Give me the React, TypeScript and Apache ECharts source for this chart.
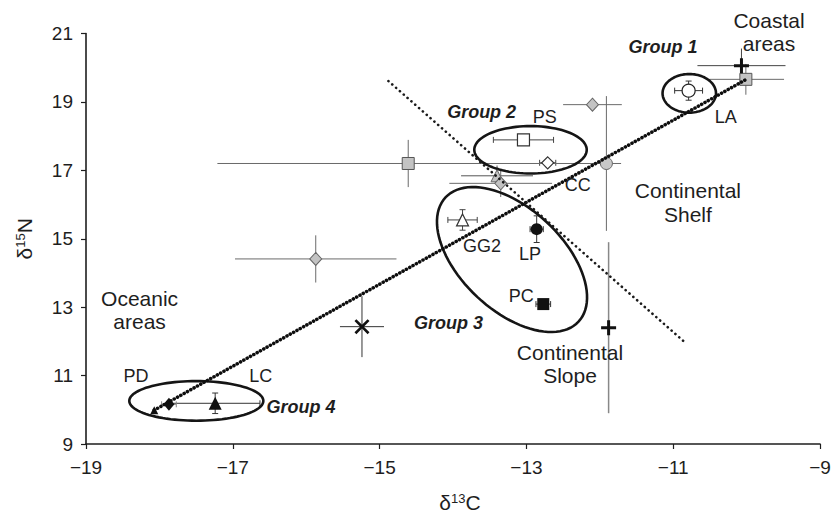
import React, { useEffect, useRef } from 'react';
import * as echarts from 'echarts';

// ---------- axis ticks ----------
const xTicks = [-19, -17, -15, -13, -11, -9];
const yTicks = [9, 11, 13, 15, 17, 19, 21];

// ---------- data points (δ13C, δ15N, ±SD) ----------
const pointNames = [
  'LA', 'Coastal square', 'Coastal plus', 'Gray diamond top', 'PS', 'CC', 'Gray circle',
  'Gray square left', 'Gray triangle', 'Gray diamond mid', 'GG2', 'LP', 'PC', 'Plus slope',
  'Gray diamond left', 'Cross', 'LC', 'PD', 'Small triangle',
];
const pointX = [-10.79, -10.01, -10.07, -12.1, -13.04, -12.71, -11.91, -14.61, -13.4, -13.35, -13.87, -12.86, -12.77, -11.88, -15.87, -15.24, -17.24, -17.87, -18.07];
const pointY = [19.33, 19.66, 20.06, 18.92, 17.89, 17.22, 17.2, 17.2, 16.84, 16.62, 15.55, 15.28, 13.09, 12.4, 14.41, 12.43, 10.19, 10.16, 9.99];
const errX = [0.19, 0.52, 0.6, 0.4, 0.41, 0.11, 0.2, 2.6, 0.49, 0.7, 0.2, 0.09, 0.1, 0.05, 1.1, 0.3, 0.61, 0.1, 0];
const errY = [0.28, 0.45, 0.5, 0.1, 0.12, 0.05, 1.97, 0.69, 0.3, 0.4, 0.3, 0.39, 0.05, 2.5, 0.69, 0.89, 0.3, 0.05, 0];
const pointKind = [
  'openCircle', 'graySquare', 'plus', 'grayDiamond', 'openSquare', 'openDiamond', 'grayCircle',
  'graySquare', 'grayTriangle', 'grayDiamond', 'openTriangle', 'blackCircle', 'blackSquare', 'plusSlope',
  'grayDiamond', 'cross', 'blackTriangle', 'blackDiamond', 'smallTriangle',
];

// ---------- dotted lines ----------
const regressionX = [-18.07, -10.02];
const regressionY = [9.99, 19.64];
const dividerX = [-14.88, -10.85];
const dividerY = [19.61, 11.99];

// ---------- group ellipses: centre + two semi-axis vectors (data units) ----------
const ellipseNames = ['Group 1', 'Group 2', 'Group 3', 'Group 4'];
const ellipseCX = [-10.781, -12.944, -13.196, -17.497];
const ellipseCY = [19.251, 17.6, 14.392, 10.26];
const ellipseUX = [0.364, 0.766, 0.906, 0.913];
const ellipseUY = [0, 0, -1.816, 0];
const ellipseVX = [0, 0, -0.474, 0];
const ellipseVY = [0.564, 0.693, -1.091, 0.579];

// ---------- annotations ----------
const labelText = [
  'Coastal\nareas', 'Group 1', 'LA', 'Group 2', 'PS', 'CC', 'Continental\nShelf', 'GG2', 'LP', 'PC',
  'Group 3', 'Continental\nSlope', 'Oceanic\nareas', 'PD', 'LC', 'Group 4',
];
const labelX = [-9.695, -11.14, -10.285, -13.61, -12.75, -12.3, -10.8, -13.605, -12.95, -13.07, -14.06, -12.406, -18.27, -18.32, -16.62, -16.07];
const labelY = [21.04, 20.61, 18.57, 18.71, 18.57, 16.57, 16.06, 14.79, 14.55, 13.33, 12.54, 11.34, 12.915, 10.99, 10.99, 10.07];
const labelKind = ['region', 'group', 'name', 'group', 'name', 'name', 'region', 'name', 'name', 'name', 'group', 'region', 'region', 'name', 'name', 'group'];

// ---------- styles ----------
const FONT = '"Liberation Sans", Arial, Helvetica, sans-serif';
const INK = '#1e1e1e';
const PLUS = 'path://M0 8H20V12H0Z M8 0H12V20H8Z';
const CROSS = 'path://M2.5 0L10 7.5L17.5 0L20 2.5L12.5 10L20 17.5L17.5 20L10 12.5L2.5 20L0 17.5L7.5 10L0 2.5Z';

type KS = { symbol: string; size: number | number[]; fill: string; stroke?: string; bw?: number; err: string; errW?: number; caps?: boolean };
const kindStyle: Record<string, KS> = {
  openCircle: { symbol: 'circle', size: 13, fill: '#fff', stroke: '#222', bw: 1.2, err: '#333', caps: true },
  graySquare: { symbol: 'rect', size: 12, fill: '#c3c3c3', stroke: '#555', bw: 1, err: '#6a6a6a' },
  plus: { symbol: PLUS, size: 15, fill: '#111', err: '#444' },
  plusSlope: { symbol: PLUS, size: 15, fill: '#111', err: '#888', errW: 1.5 },
  grayDiamond: { symbol: 'diamond', size: [12, 13], fill: '#c3c3c3', stroke: '#666', bw: 1, err: '#6a6a6a' },
  openSquare: { symbol: 'rect', size: 12, fill: '#fff', stroke: '#333', bw: 1.2, err: '#444', caps: true },
  openDiamond: { symbol: 'diamond', size: [12, 12], fill: '#fff', stroke: '#333', bw: 1.2, err: '#444', caps: true },
  grayCircle: { symbol: 'circle', size: 12, fill: '#c8c8c8', stroke: '#666', bw: 1, err: '#6a6a6a' },
  grayTriangle: { symbol: 'triangle', size: 12, fill: '#c3c3c3', stroke: '#666', bw: 1, err: '#555' },
  openTriangle: { symbol: 'triangle', size: 12, fill: '#fff', stroke: '#333', bw: 1.2, err: '#444', caps: true },
  blackCircle: { symbol: 'circle', size: 12, fill: '#111', err: '#333', caps: true },
  blackSquare: { symbol: 'rect', size: 12, fill: '#111', err: '#333', caps: true },
  cross: { symbol: CROSS, size: 15, fill: '#111', err: '#333' },
  blackTriangle: { symbol: 'triangle', size: 13, fill: '#111', err: '#333', caps: true },
  blackDiamond: { symbol: 'diamond', size: [11, 13], fill: '#111', err: '#888', caps: true },
  smallTriangle: { symbol: 'triangle', size: 8, fill: '#111', err: '#111' },
};

const labelStyle: Record<string, any> = {
  region: { fontSize: 21, fontWeight: 'normal', fontStyle: 'normal', lineHeight: 23.5 },
  name: { fontSize: 18, fontWeight: 'normal', fontStyle: 'normal', lineHeight: 20 },
  group: { fontSize: 18, fontWeight: 'bold', fontStyle: 'italic', lineHeight: 20 },
};

const minus = (v: number) => (v < 0 ? '\u2212' + Math.abs(v) : String(v));

export default function App() {
  const ref = useRef<HTMLDivElement>(null);

  useEffect(() => {
    document.body.style.margin = '0';
    if (!ref.current) return;
    const chart = echarts.init(ref.current, null, { renderer: 'svg' });

    const errData = pointX.map((x, i) => [x, pointY[i], errX[i], errY[i]]);
    const scatterData = pointX.map((x, i) => {
      const st = kindStyle[pointKind[i]];
      return {
        name: pointNames[i],
        value: [x, pointY[i]],
        symbol: st.symbol,
        symbolSize: st.size,
        itemStyle: { color: st.fill, borderColor: st.stroke || st.fill, borderWidth: st.bw || 0, opacity: 1 },
      };
    });
    const ellipseData = ellipseCX.map((cx, i) => [cx, ellipseCY[i], ellipseUX[i], ellipseUY[i], ellipseVX[i], ellipseVY[i]]);
    const labelData = labelX.map((x, i) => [x, labelY[i], i]);

    const option: any = {
      animation: false,
      backgroundColor: '#fff',
      grid: { left: 86, right: 11, top: 33.5, bottom: 74, containLabel: false, outerBoundsMode: 'none' },
      xAxis: {
        type: 'value',
        min: -19,
        max: -9,
        name: '{d|δ}{s|13}{d|C}',
        nameLocation: 'middle',
        nameGap: 48,
        nameTextStyle: {
          padding: [0, 0, 0, 14],
          rich: {
            d: { fontSize: 21, fontFamily: FONT, color: INK },
            s: { fontSize: 13, fontFamily: FONT, color: INK, verticalAlign: 'top' },
          },
        },
        axisLine: { onZero: false, lineStyle: { color: INK, width: 1.6 } },
        axisTick: { show: true, inside: false, length: 5, customValues: xTicks, lineStyle: { color: INK, width: 1.2 } },
        axisLabel: { customValues: xTicks, formatter: (v: number) => minus(v), fontSize: 19, fontFamily: FONT, color: INK, margin: 14 },
        splitLine: { show: false },
      },
      yAxis: {
        type: 'value',
        min: 9,
        max: 21,
        name: '{d|δ}{s|15}{d|N}',
        nameLocation: 'middle',
        nameRotate: 90,
        nameGap: 51,
        nameTextStyle: {
          rich: {
            d: { fontSize: 21, fontFamily: FONT, color: INK },
            s: { fontSize: 13, fontFamily: FONT, color: INK, verticalAlign: 'top' },
          },
        },
        axisLine: { onZero: false, lineStyle: { color: INK, width: 1.6 } },
        axisTick: { show: true, inside: false, length: 5, customValues: yTicks, lineStyle: { color: INK, width: 1.2 } },
        axisLabel: { customValues: yTicks, fontSize: 19, fontFamily: FONT, color: INK, margin: 13 },
        splitLine: { show: false },
      },
      series: [
        {
          type: 'custom',
          name: 'error bars',
          z: 2,
          silent: true,
          encode: { x: 0, y: 1 },
          data: errData,
          renderItem: (params: any, api: any) => {
            const i = params.dataIndex;
            const st = kindStyle[pointKind[i]];
            const x = api.value(0), y = api.value(1), ex = api.value(2), ey = api.value(3);
            const style = { stroke: st.err, lineWidth: st.errW || 1 };
            const children: any[] = [];
            const cap = 3;
            if (ex > 0) {
              const l = api.coord([x - ex, y]);
              const r = api.coord([x + ex, y]);
              children.push({ type: 'line', shape: { x1: l[0], y1: l[1], x2: r[0], y2: r[1] }, style });
              if (st.caps) {
                children.push({ type: 'line', shape: { x1: l[0], y1: l[1] - cap, x2: l[0], y2: l[1] + cap }, style });
                children.push({ type: 'line', shape: { x1: r[0], y1: r[1] - cap, x2: r[0], y2: r[1] + cap }, style });
              }
            }
            if (ey > 0) {
              const t = api.coord([x, y + ey]);
              const b = api.coord([x, y - ey]);
              children.push({ type: 'line', shape: { x1: t[0], y1: t[1], x2: b[0], y2: b[1] }, style });
              if (st.caps) {
                children.push({ type: 'line', shape: { x1: t[0] - cap, y1: t[1], x2: t[0] + cap, y2: t[1] }, style });
                children.push({ type: 'line', shape: { x1: b[0] - cap, y1: b[1], x2: b[0] + cap, y2: b[1] }, style });
              }
            }
            return { type: 'group', children };
          },
        },
        {
          type: 'custom',
          name: 'groups',
          z: 3,
          silent: true,
          encode: { x: 0, y: 1 },
          data: ellipseData,
          renderItem: (params: any, api: any) => {
            const cx = api.value(0), cy = api.value(1);
            const ux = api.value(2), uy = api.value(3), vx = api.value(4), vy = api.value(5);
            const pts: number[][] = [];
            for (let k = 0; k < 96; k++) {
              const t = (k / 96) * Math.PI * 2;
              const c = Math.cos(t), s = Math.sin(t);
              pts.push(api.coord([cx + c * ux + s * vx, cy + c * uy + s * vy]));
            }
            return { type: 'polygon', shape: { points: pts }, style: { fill: 'none', stroke: '#151515', lineWidth: 2.6 } };
          },
        },
        {
          type: 'scatter',
          name: 'species',
          z: 4,
          silent: true,
          data: scatterData,
        },
        {
          type: 'line',
          name: 'regression',
          z: 5,
          silent: true,
          symbol: 'none',
          data: regressionX.map((x, i) => [x, regressionY[i]]),
          lineStyle: { color: '#0e0e0e', width: 3.5, type: [0.1, 3.7], cap: 'round' },
        },
        {
          type: 'line',
          name: 'divider',
          z: 5,
          silent: true,
          symbol: 'none',
          data: dividerX.map((x, i) => [x, dividerY[i]]),
          lineStyle: { color: '#1a1a1a', width: 2.6, type: [0.1, 5], cap: 'round' },
        },
        {
          type: 'custom',
          name: 'labels',
          z: 6,
          silent: true,
          encode: { x: 0, y: 1 },
          data: labelData,
          renderItem: (params: any, api: any) => {
            const i = api.value(2);
            const p = api.coord([api.value(0), api.value(1)]);
            const ls = labelStyle[labelKind[i]];
            return {
              type: 'text',
              x: p[0],
              y: p[1],
              style: {
                text: labelText[i],
                fill: INK,
                fontFamily: FONT,
                fontSize: ls.fontSize,
                fontWeight: ls.fontWeight,
                fontStyle: ls.fontStyle,
                lineHeight: ls.lineHeight,
                align: 'center',
                verticalAlign: 'middle',
              },
            };
          },
        },
      ],
    };

    chart.setOption(option);
    return () => chart.dispose();
  }, []);

  return <div ref={ref} style={{ width: 831, height: 518 }} />;
}
